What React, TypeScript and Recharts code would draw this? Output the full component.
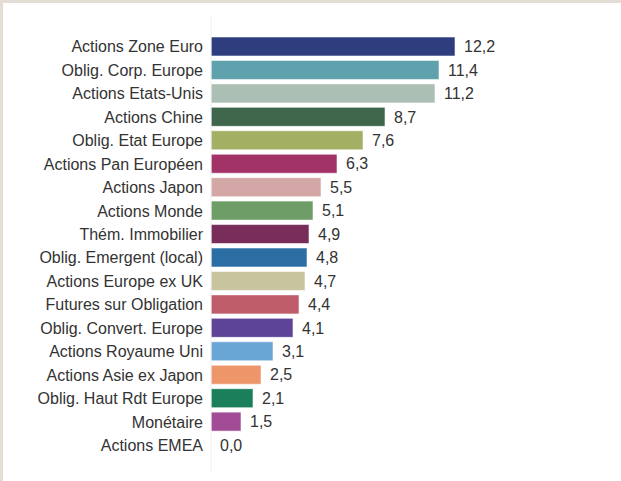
import React from "react";
import { BarChart, Bar, XAxis, YAxis, Cell, LabelList } from "recharts";

const categories = [
  "Actions Zone Euro",
  "Oblig. Corp. Europe",
  "Actions Etats-Unis",
  "Actions Chine",
  "Oblig. Etat Europe",
  "Actions Pan Européen",
  "Actions Japon",
  "Actions Monde",
  "Thém. Immobilier",
  "Oblig. Emergent (local)",
  "Actions Europe ex UK",
  "Futures sur Obligation",
  "Oblig. Convert. Europe",
  "Actions Royaume Uni",
  "Actions Asie ex Japon",
  "Oblig. Haut Rdt Europe",
  "Monétaire",
  "Actions EMEA",
];

const values = [12.2, 11.4, 11.2, 8.7, 7.6, 6.3, 5.5, 5.1, 4.9, 4.8, 4.7, 4.4, 4.1, 3.1, 2.5, 2.1, 1.5, 0.0];

const colors = [
  "#2e3d7e",
  "#5fa2ad",
  "#abbfb5",
  "#3e664a",
  "#a3b063",
  "#a23366",
  "#d3a7a6",
  "#6e9d67",
  "#792d5a",
  "#2a6ea3",
  "#c8c59e",
  "#bf5c69",
  "#5e4497",
  "#69a5d5",
  "#ec9669",
  "#1b7f5c",
  "#a24c96",
  "#cccccc",
];

const data = categories.map((name, i) => ({ name, value: values[i] }));

const fmt = (v: any) => Number(v).toFixed(1).replace(".", ",");

const renderValue = (props: any) => {
  const { x, y, width, height, value } = props;
  const px = Number(x) + Number(width || 0) + 9;
  const py = Number(y) + Number(height || 0) / 2;
  return (
    <text
      x={px}
      y={py}
      dy="0.355em"
      textAnchor="start"
      fill="#333333"
      fontSize={16}
    >
      {fmt(value)}
    </text>
  );
};

export default function App() {
  return (
    <div
      style={{
        position: "absolute",
        left: 0,
        top: 0,
        width: 621,
        height: 481,
        background: "#e4ddd6",
        overflow: "hidden",
      }}
    >
      <div
        style={{
          position: "absolute",
          left: 3,
          top: 3,
          width: 618,
          height: 478,
          background: "#ffffff",
        }}
      />
      <div style={{ position: "absolute", left: 0, top: 0 }}>
        <BarChart
          width={621}
          height={481}
          data={data}
          layout="vertical"
          margin={{ top: 16, right: 110, bottom: 8, left: 0 }}
          barSize={19}
          style={{ fontFamily: "'Liberation Sans', Arial, sans-serif" }}
        >
          <XAxis type="number" domain={[0, 15]} hide />
          <YAxis
            type="category"
            dataKey="name"
            width={211}
            tickLine={false}
            axisLine={{ stroke: "#efefef" }}
            padding={{ top: 19, bottom: 16 }}
            interval={0}
            tick={{ fill: "#333333", fontSize: 16 }}
          />
          <Bar
            dataKey="value"
            isAnimationActive={false}
            strokeWidth={1}
            minPointSize={0.01}
          >
            {data.map((d, i) => (
              <Cell
                key={d.name}
                fill={colors[i]}
                stroke={d.value === 0 ? "none" : "#ffffff"}
                strokeOpacity={0.55}
              />
            ))}
            <LabelList dataKey="value" content={renderValue} />
          </Bar>
        </BarChart>
      </div>
    </div>
  );
}
